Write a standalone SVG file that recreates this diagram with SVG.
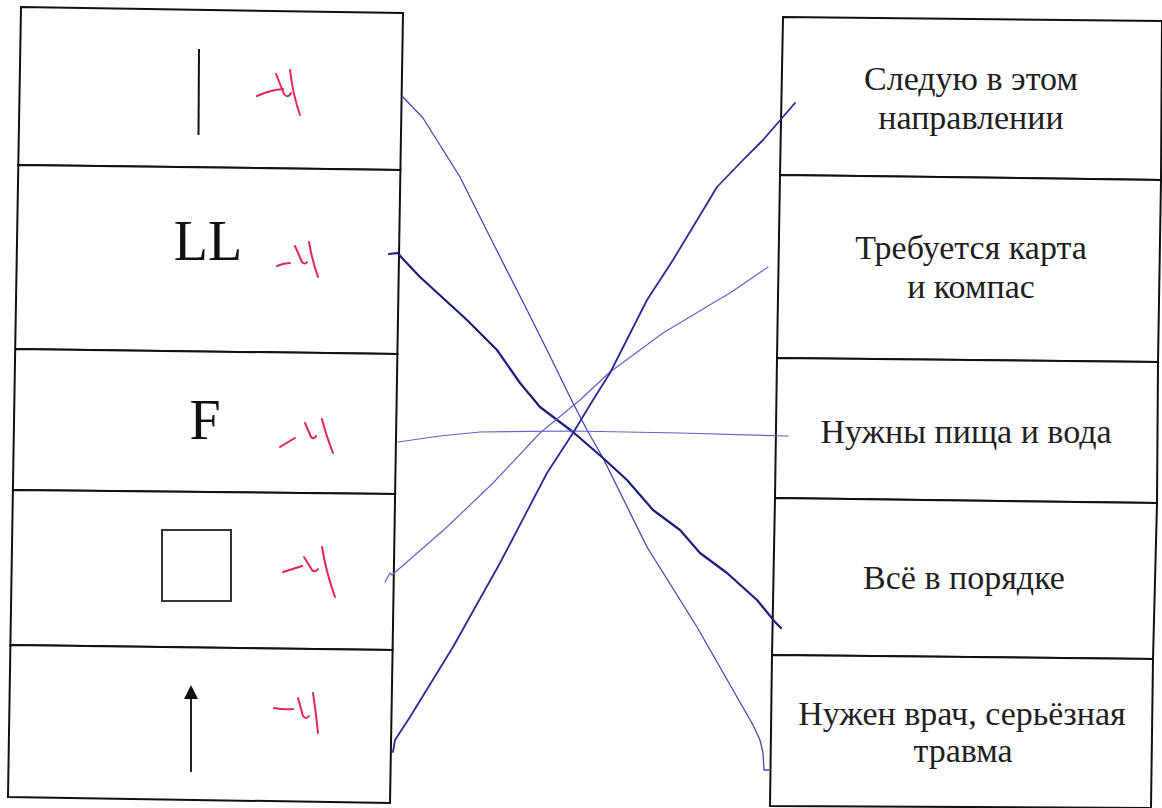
<svg xmlns="http://www.w3.org/2000/svg" width="1162" height="808" viewBox="0 0 1162 808">
<style>
.cell{fill:#fff;stroke:#111;stroke-width:2;stroke-linejoin:miter}
.lbl{font-family:'Liberation Serif','Times New Roman',Tinos,'DejaVu Serif',serif;font-size:34px;fill:#1e1e1e;text-anchor:middle}
.sym{font-family:'Liberation Serif','Times New Roman',Tinos,'DejaVu Serif',serif;font-size:56px;fill:#111;text-anchor:middle}
.mark{fill:none;stroke:#e2245c;stroke-width:2;stroke-linecap:round;stroke-linejoin:round}
.pen{fill:none;stroke-linecap:round;stroke-linejoin:round}
.dark{stroke:#1d1d7c;stroke-width:2.2}
.mid{stroke:#2a2a96;stroke-width:1.8}
.thin{stroke:#4646b4;stroke-width:1.3}
.light{stroke:#6262c8;stroke-width:1.2}
</style>
<rect width="1162" height="808" fill="#fff"/>
<g id="left-1">
<polygon class="cell" points="21,7 403,13 400.4,170 18.3,165"/>
<line x1="199" y1="49" x2="198.5" y2="135" stroke="#111" stroke-width="2"/>
<path class="mark" d="M257,96 Q270,90 283,89 M276,74 L284,94 Q288,99 291,93 M290,70 Q293,95 300,115"/>
</g>
<g id="left-2">
<polygon class="cell" points="18.3,165 400.4,170 397.4,354 15.2,349"/>
<text class="sym" x="208" y="260">LL</text>
<path class="mark" d="M277,266 Q284,263 290,263 M295,246 L302,262 Q305,265 307,262 M309,242 Q312,260 318,277"/>
</g>
<g id="left-3">
<polygon class="cell" points="15.2,349 397.4,354 395.1,494 12.9,490"/>
<text class="sym" x="205" y="439">F</text>
<path class="mark" d="M280,447 Q288,442 295,438 M305,423 L311,437 Q314,440 316,436 M322,419 Q326,435 333,453"/>
</g>
<g id="left-4">
<polygon class="cell" points="12.9,490 395.1,494 392.6,650 10.4,645"/>
<rect x="162" y="530" width="69" height="71" fill="none" stroke="#333" stroke-width="2"/>
<path class="mark" d="M283,572 Q293,569 302,566 M304,557 L312,570 Q315,573 318,569 M322,547 Q326,572 335,597"/>
</g>
<g id="left-5">
<polygon class="cell" points="10.4,645 392.6,650 390,803 8,797"/>
<line x1="191" y1="772" x2="191" y2="696" stroke="#222" stroke-width="2"/>
<polygon points="191,685 198,699 184,699" fill="#111"/>
<path class="mark" d="M274,708 Q284,710 293,709 M298,698 L303,716 Q306,720 309,716 M313,693 Q316,712 318,733"/>
</g>
<g id="right-1">
<polygon class="cell" points="783,17 1162,21 1161,180 780,175"/>
<text class="lbl" x="971" y="90">Следую в этом</text>
<text class="lbl" x="971" y="129">направлении</text>
</g>
<g id="right-2">
<polygon class="cell" points="780,175 1161,180 1158,362 777,358"/>
<text class="lbl" x="971" y="259">Требуется карта</text>
<text class="lbl" x="971" y="298">и компас</text>
</g>
<g id="right-3">
<polygon class="cell" points="777,358 1158,362 1157,503 775,498"/>
<text class="lbl" x="966" y="443">Нужны пища и вода</text>
</g>
<g id="right-4">
<polygon class="cell" points="775,498 1157,503 1153,659 772,655"/>
<text class="lbl" x="964" y="589">Всё в порядке</text>
</g>
<g id="right-5">
<polygon class="cell" points="772,655 1153,659 1151,808 770,806"/>
<text class="lbl" x="962" y="725">Нужен врач, серьёзная</text>
<text class="lbl" x="963" y="762">травма</text>
</g>
<g id="connectors">
<path class="pen thin" d="M403,97 L423,118 L460,177 L490,237 L527,310 L547,350 L573,403 L587,430 L603,458 L647,547 L697,627 L733,690 L753,725 L760,740 L763,753 L764,770 L770,770"/>
<path class="pen dark" d="M389,254 L398,253 L402,258 L420,277 L467,320 L497,350 L520,383 L540,407 L573,432 L603,458 L627,480 L653,510 L680,530 L700,553 L727,573 L757,600 L775,622 L781,628"/>
<path class="pen light" d="M398,442 L440,436 L480,432 L573,431 L680,433 L788,436"/>
<path class="pen light" d="M385,582 L390,573 L392,575 L447,527 L493,483 L540,433 L580,400 L610,372 L663,333 L713,303 L730,293 L768,267"/>
<path class="pen mid" d="M393,752 L395,740 L410,717 L453,647 L500,563 L547,473 L573,433 L593,400 L610,373 L647,300 L673,260 L717,187 L743,160 L763,140 L795,103"/>
</g>
</svg>
